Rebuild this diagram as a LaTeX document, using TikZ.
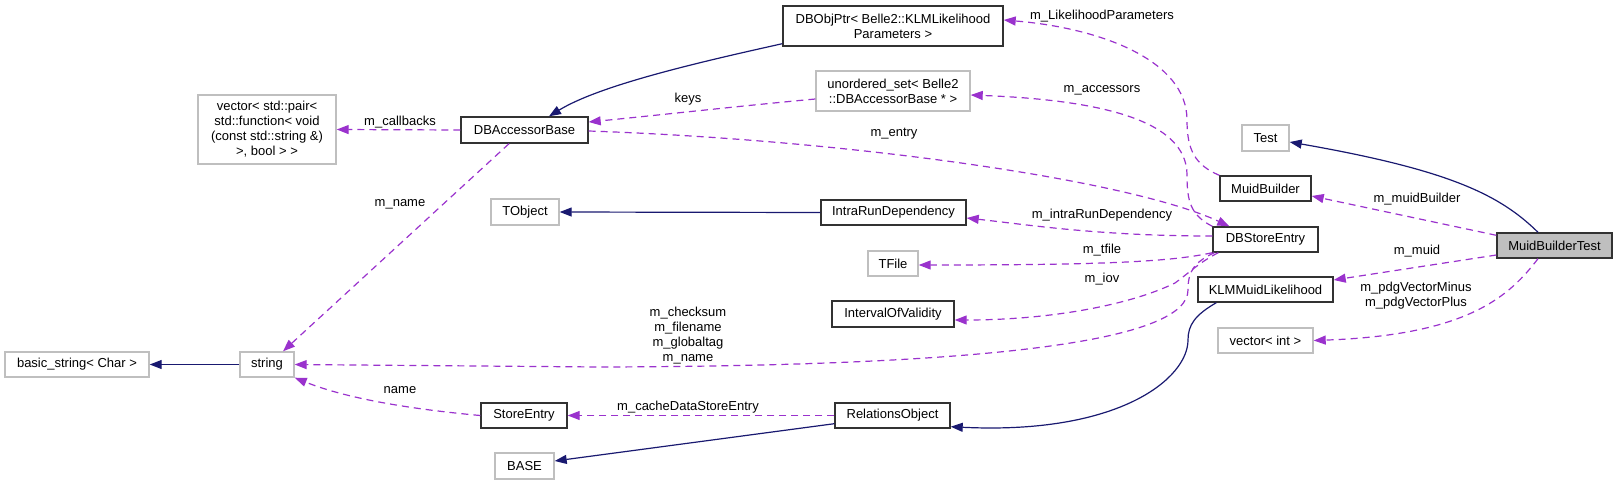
\documentclass[tikz,border=0pt]{standalone}
\usepackage{fontspec}
\setmainfont{Liberation Sans}
\usetikzlibrary{arrows.meta,calc}
\definecolor{eblue}{RGB}{25,25,112}
\definecolor{epurple}{RGB}{154,50,205}
\definecolor{gborder}{RGB}{191,191,191}
\definecolor{gfill}{RGB}{191,191,191}
\definecolor{bborder}{RGB}{50,50,50}
\begin{document}
\begin{tikzpicture}[x=1pt,y=-1pt,
  every node/.style={font=\fontsize{13}{15}\selectfont, inner sep=0pt, align=center},
  cls/.style={draw=bborder, line width=1.4pt, fill=white},
  ext/.style={draw=gborder, line width=1.4pt, fill=white},
  cur/.style={draw=bborder, line width=1.4pt, fill=gfill},
  inh/.style={draw=eblue, line width=1.2pt, -{Triangle[length=12pt,width=9pt]}},
  use/.style={draw=epurple, line width=1.2pt, dash pattern=on 7pt off 5pt, -{Triangle[length=12pt,width=9pt]}},
  lbl/.style={}
]
\useasboundingbox (0,0) rectangle (1617,485);

% nodes
\node[ext, minimum width=138pt, minimum height=69pt] (vec) at (267,129.5) {vector< std::pair<\\std::function< void\\(const std::string \&)\\>, bool > >};
\node[cls, minimum width=127pt, minimum height=26pt] (dbab) at (524.5,130) {DBAccessorBase};
\node[ext, minimum width=68pt, minimum height=26pt] (tobj) at (525,212) {TObject};
\node[cls, minimum width=220pt, minimum height=40pt] (dbobj) at (893,26) {DBObjPtr< Belle2::KLMLikelihood\\Parameters >};
\node[ext, minimum width=154pt, minimum height=40pt] (uset) at (893,91) {unordered\_set< Belle2\\::DBAccessorBase * >};
\node[cls, minimum width=145pt, minimum height=25pt] (intra) at (893.5,212.5) {IntraRunDependency};
\node[ext, minimum width=50pt, minimum height=25pt] (tfile) at (893,263.5) {TFile};
\node[cls, minimum width=122pt, minimum height=26pt] (iov) at (893,314) {IntervalOfValidity};
\node[cls, minimum width=115pt, minimum height=25pt] (relobj) at (892.5,415.5) {RelationsObject};
\node[ext, minimum width=144pt, minimum height=25pt] (bstr) at (77,364.5) {basic\_string< Char >};
\node[ext, minimum width=54pt, minimum height=25pt] (str) at (267,364.5) {string};
\node[cls, minimum width=86pt, minimum height=25pt] (sentry) at (524,415.5) {StoreEntry};
\node[ext, minimum width=59pt, minimum height=26pt] (base) at (524.5,466) {BASE};
\node[ext, minimum width=47pt, minimum height=26pt] (test) at (1265.5,138) {Test};
\node[cls, minimum width=91pt, minimum height=25pt] (mb) at (1265.5,188.5) {MuidBuilder};
\node[cls, minimum width=105pt, minimum height=25pt] (dbse) at (1265.5,239.5) {DBStoreEntry};
\node[cls, minimum width=135pt, minimum height=25pt] (klm) at (1265.5,289.5) {KLMMuidLikelihood};
\node[ext, minimum width=95pt, minimum height=25pt] (vint) at (1265.5,340.5) {vector< int >};
\node[cur, minimum width=115pt, minimum height=25pt] (mbt) at (1554.5,245.5) {MuidBuilderTest};

% inheritance edges
\draw[inh] ($(dbobj.south west)+(0,-3)$) .. controls (700,62) and (600,85) .. ($(dbab.north)+(24.5,0)$);
\draw[inh] (intra.west) -- (tobj.east);
\draw[inh] (str.west) -- (bstr.east);
\draw[inh] ($(relobj.south west)+(0,-5)$) -- ($(base.east)+(0,-5)$);
\draw[inh] ($(klm.south west)+(19,0)$) .. controls (1195,315) and (1188,325) .. (1188,340) .. controls (1188,378) and (1120,435) .. ($(relobj.south east)+(0,-2)$);
\draw[inh] ($(mbt.north)+(-16.5,0)$) .. controls (1500,195) and (1450,170) .. ($(test.east)+(0,4)$);

% usage edges
\draw[use] (dbab.west) -- (vec.east);
\draw[use] ($(uset.west)+(0,8)$) .. controls (740,106) and (660,115) .. ($(dbab.east)+(0,-8)$);
\draw[use] ($(dbab.south)+(-15.5,0)$) -- ($(str.north)+(16,0)$);
\draw[use] ($(dbab.east)+(0,1)$) .. controls (850,140) and (1130,180) .. ($(dbse.north west)+(17,0)$);
\draw[use] (mb.north west) .. controls (1195,165) and (1187,150) .. (1187,120) .. controls (1187,60) and (1100,28) .. ($(dbobj.east)+(0,-6)$);
\draw[use] (dbse.north west) .. controls (1190,215) and (1187,200) .. (1187,175) .. controls (1187,120) and (1100,100) .. ($(uset.east)+(0,4)$);
\draw[use] ($(dbse.west)+(0,-3.5)$) .. controls (1100,236) and (1030,225) .. ($(intra.east)+(0,5.5)$);
\draw[use] (dbse.south west) .. controls (1170,262) and (1100,265) .. ($(tfile.east)+(0,1.5)$);
\draw[use] ($(dbse.south west)+(6,0)$) .. controls (1200,262) and (1190,272) .. (1175,283) .. controls (1130,305) and (1050,320) .. ($(iov.east)+(0,6)$);
\draw[use] ($(dbse.south west)+(2,0)$) .. controls (1195,262) and (1188,270) .. (1188,290) .. controls (1188,340) and (1000,366) .. (600,367) -- (str.east);
\draw[use] (sentry.west) .. controls (420,410) and (350,400) .. (str.south east);
\draw[use] (relobj.west) -- (sentry.east);
\draw[use] ($(mbt.north west)+(0,3)$) -- ($(mb.east)+(0,7.5)$);
\draw[use] ($(mbt.west)+(0,9.5)$) -- ($(klm.east)+(0,-9.5)$);
\draw[use] ($(mbt.south)+(-16.5,0)$) .. controls (1510,295) and (1470,335) .. (vint.east);

% labels
\node[lbl] (l1) at (400,122) {m\_callbacks};
\node[lbl] (l2) at (688,99) {keys};
\node[lbl] (l3) at (400,204) {m\_name};
\node[lbl] (l4) at (894,134) {m\_entry};
\node[lbl] (l5) at (1102,16) {m\_LikelihoodParameters};
\node[lbl] (l6) at (1102,90) {m\_accessors};
\node[lbl] (l7) at (1102,215) {m\_intraRunDependency};
\node[lbl] (l8) at (1102,250) {m\_tfile};
\node[lbl] (l9) at (1102,279) {m\_iov};
\node[lbl] (l10) at (688,335.5) {m\_checksum\\m\_filename\\m\_globaltag\\m\_name};
\node[lbl] (l11) at (400,390) {name};
\node[lbl] (l12) at (688,407) {m\_cacheDataStoreEntry};
\node[lbl] (l13) at (1417,199) {m\_muidBuilder};
\node[lbl] (l14) at (1417,251) {m\_muid};
\node[lbl] (l15) at (1416,295.5) {m\_pdgVectorMinus\\m\_pdgVectorPlus};
\end{tikzpicture}
\end{document}
